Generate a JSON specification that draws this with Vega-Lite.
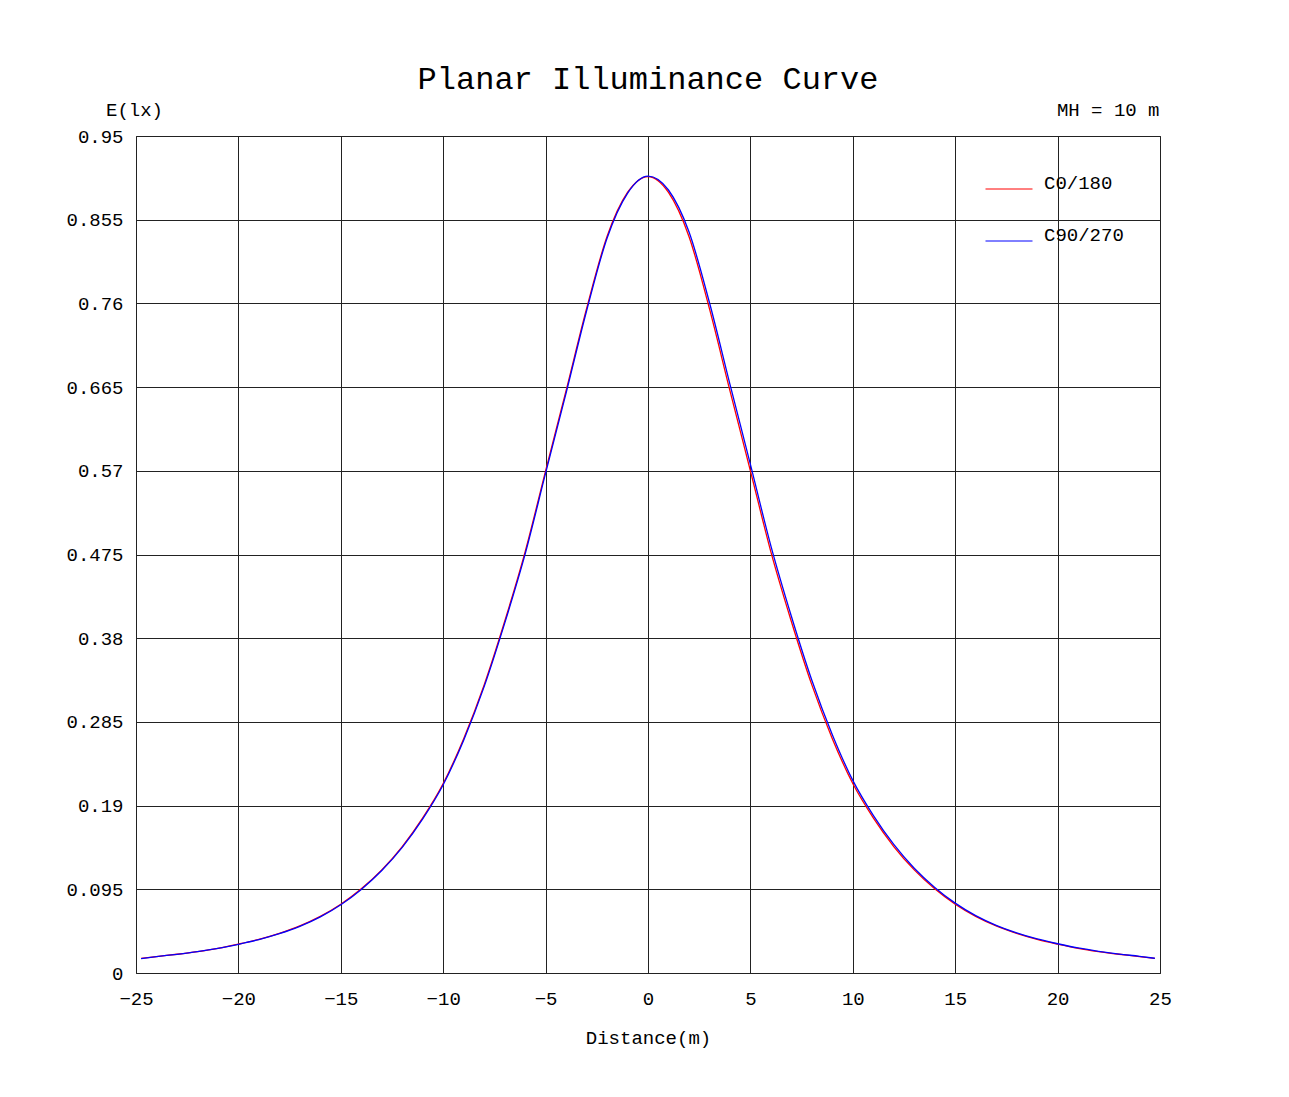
{
  "$schema": "https://vega.github.io/schema/vega-lite/v6.json",
  "autosize": {"type": "none"},
  "width": 1024,
  "height": 837,
  "padding": {"left": 136, "top": 136, "right": 129, "bottom": 124},
  "background": "white",
  "title": {"text": "Planar Illuminance Curve", "frame": "group", "anchor": "middle", "offset": 4, "fontSize": 32, "font": "Liberation Mono", "fontWeight": "normal", "color": "#000"},
  "config": {
    "view": {"stroke": "#222", "strokeWidth": 1},
    "font": "Liberation Mono",
    "axis": {"labelFont": "Liberation Mono", "titleFont": "Liberation Mono", "labelColor": "#000", "titleColor": "#000", "labelFontSize": 19, "titleFontSize": 19, "titleFontWeight": "normal", "gridColor": "#222", "gridOpacity": 1, "gridWidth": 1, "ticks": false, "tickSize": 0, "domain": false, "labelFlush": false},
    "legend": {"labelFont": "Liberation Mono", "labelColor": "#000"}
  },
  "data": {"values": [
    {"d": -24.75, "E": 0.0165, "series": "C0/180"},
    {"d": -24, "E": 0.0187, "series": "C0/180"},
    {"d": -23, "E": 0.0213, "series": "C0/180"},
    {"d": -22, "E": 0.0243, "series": "C0/180"},
    {"d": -21, "E": 0.0280, "series": "C0/180"},
    {"d": -20, "E": 0.0328, "series": "C0/180"},
    {"d": -19, "E": 0.0382, "series": "C0/180"},
    {"d": -18, "E": 0.0450, "series": "C0/180"},
    {"d": -17, "E": 0.0534, "series": "C0/180"},
    {"d": -16, "E": 0.0642, "series": "C0/180"},
    {"d": -15, "E": 0.0780, "series": "C0/180"},
    {"d": -14, "E": 0.0955, "series": "C0/180"},
    {"d": -13, "E": 0.117, "series": "C0/180"},
    {"d": -12, "E": 0.1435, "series": "C0/180"},
    {"d": -11, "E": 0.176, "series": "C0/180"},
    {"d": -10, "E": 0.215, "series": "C0/180"},
    {"d": -9, "E": 0.266, "series": "C0/180"},
    {"d": -8, "E": 0.327, "series": "C0/180"},
    {"d": -7, "E": 0.399, "series": "C0/180"},
    {"d": -6, "E": 0.478, "series": "C0/180"},
    {"d": -5, "E": 0.570, "series": "C0/180"},
    {"d": -4, "E": 0.661, "series": "C0/180"},
    {"d": -3, "E": 0.754, "series": "C0/180"},
    {"d": -2, "E": 0.836, "series": "C0/180"},
    {"d": -1, "E": 0.886, "series": "C0/180"},
    {"d": 0, "E": 0.904, "series": "C0/180"},
    {"d": 1, "E": 0.886, "series": "C0/180"},
    {"d": 2, "E": 0.836, "series": "C0/180"},
    {"d": 3, "E": 0.754, "series": "C0/180"},
    {"d": 4, "E": 0.661, "series": "C0/180"},
    {"d": 5, "E": 0.570, "series": "C0/180"},
    {"d": 6, "E": 0.478, "series": "C0/180"},
    {"d": 7, "E": 0.399, "series": "C0/180"},
    {"d": 8, "E": 0.327, "series": "C0/180"},
    {"d": 9, "E": 0.266, "series": "C0/180"},
    {"d": 10, "E": 0.215, "series": "C0/180"},
    {"d": 11, "E": 0.176, "series": "C0/180"},
    {"d": 12, "E": 0.1435, "series": "C0/180"},
    {"d": 13, "E": 0.117, "series": "C0/180"},
    {"d": 14, "E": 0.0955, "series": "C0/180"},
    {"d": 15, "E": 0.0780, "series": "C0/180"},
    {"d": 16, "E": 0.0642, "series": "C0/180"},
    {"d": 17, "E": 0.0534, "series": "C0/180"},
    {"d": 18, "E": 0.0450, "series": "C0/180"},
    {"d": 19, "E": 0.0382, "series": "C0/180"},
    {"d": 20, "E": 0.0328, "series": "C0/180"},
    {"d": 21, "E": 0.0280, "series": "C0/180"},
    {"d": 22, "E": 0.0243, "series": "C0/180"},
    {"d": 23, "E": 0.0213, "series": "C0/180"},
    {"d": 24, "E": 0.0187, "series": "C0/180"},
    {"d": 24.75, "E": 0.0165, "series": "C0/180"},
    {"d": -24.75, "E": 0.0164, "series": "C90/270"},
    {"d": -24, "E": 0.0186, "series": "C90/270"},
    {"d": -23, "E": 0.0212, "series": "C90/270"},
    {"d": -22, "E": 0.0242, "series": "C90/270"},
    {"d": -21, "E": 0.0279, "series": "C90/270"},
    {"d": -20, "E": 0.0326, "series": "C90/270"},
    {"d": -19, "E": 0.0380, "series": "C90/270"},
    {"d": -18, "E": 0.0447, "series": "C90/270"},
    {"d": -17, "E": 0.0530, "series": "C90/270"},
    {"d": -16, "E": 0.0637, "series": "C90/270"},
    {"d": -15, "E": 0.0775, "series": "C90/270"},
    {"d": -14, "E": 0.0949, "series": "C90/270"},
    {"d": -13, "E": 0.1163, "series": "C90/270"},
    {"d": -12, "E": 0.1426, "series": "C90/270"},
    {"d": -11, "E": 0.1749, "series": "C90/270"},
    {"d": -10, "E": 0.2137, "series": "C90/270"},
    {"d": -9, "E": 0.2643, "series": "C90/270"},
    {"d": -8, "E": 0.325, "series": "C90/270"},
    {"d": -7, "E": 0.3968, "series": "C90/270"},
    {"d": -6, "E": 0.4754, "series": "C90/270"},
    {"d": -5, "E": 0.5673, "series": "C90/270"},
    {"d": -4, "E": 0.6582, "series": "C90/270"},
    {"d": -3, "E": 0.7514, "series": "C90/270"},
    {"d": -2, "E": 0.834, "series": "C90/270"},
    {"d": -1, "E": 0.885, "series": "C90/270"},
    {"d": 0, "E": 0.9045, "series": "C90/270"},
    {"d": 1, "E": 0.8887, "series": "C90/270"},
    {"d": 2, "E": 0.8413, "series": "C90/270"},
    {"d": 3, "E": 0.761, "series": "C90/270"},
    {"d": 4, "E": 0.6684, "series": "C90/270"},
    {"d": 5, "E": 0.5773, "series": "C90/270"},
    {"d": 6, "E": 0.4848, "series": "C90/270"},
    {"d": 7, "E": 0.4049, "series": "C90/270"},
    {"d": 8, "E": 0.3323, "series": "C90/270"},
    {"d": 9, "E": 0.2705, "series": "C90/270"},
    {"d": 10, "E": 0.2186, "series": "C90/270"},
    {"d": 11, "E": 0.1789, "series": "C90/270"},
    {"d": 12, "E": 0.1459, "series": "C90/270"},
    {"d": 13, "E": 0.1189, "series": "C90/270"},
    {"d": 14, "E": 0.0971, "series": "C90/270"},
    {"d": 15, "E": 0.0793, "series": "C90/270"},
    {"d": 16, "E": 0.0651, "series": "C90/270"},
    {"d": 17, "E": 0.0541, "series": "C90/270"},
    {"d": 18, "E": 0.0455, "series": "C90/270"},
    {"d": 19, "E": 0.0386, "series": "C90/270"},
    {"d": 20, "E": 0.0332, "series": "C90/270"},
    {"d": 21, "E": 0.0284, "series": "C90/270"},
    {"d": 22, "E": 0.0246, "series": "C90/270"},
    {"d": 23, "E": 0.0215, "series": "C90/270"},
    {"d": 24, "E": 0.0189, "series": "C90/270"},
    {"d": 24.75, "E": 0.0167, "series": "C90/270"}
  ]},
  "layer": [
    {
      "mark": {"type": "line", "interpolate": "monotone", "strokeWidth": 1.3},
      "encoding": {
        "x": {"field": "d", "type": "quantitative",
          "scale": {"domain": [-25, 25], "nice": false, "zero": false},
          "axis": {"values": [-25, -20, -15, -10, -5, 0, 5, 10, 15, 20, 25], "format": "d", "grid": true, "labelPadding": 16, "title": "Distance(m)", "titleY": 70, "titleBaseline": "alphabetic"}},
        "y": {"field": "E", "type": "quantitative",
          "scale": {"domain": [0, 0.95], "nice": false},
          "axis": {"values": [0, 0.095, 0.19, 0.285, 0.38, 0.475, 0.57, 0.665, 0.76, 0.855, 0.95], "labelExpr": "'' + datum.value", "grid": true, "labelPadding": 13, "title": "E(lx)", "titleAngle": 0, "titleAlign": "center", "titleBaseline": "alphabetic", "titleX": -2, "titleY": -21}},
        "color": {"field": "series", "type": "nominal",
          "scale": {"domain": ["C0/180", "C90/270"], "range": ["#ff0000", "#0000ff"]},
          "legend": {"orient": "none", "legendX": 849, "legendY": 29, "title": null, "symbolType": "stroke", "symbolSize": 2209, "symbolStrokeWidth": 1, "labelFontSize": 19, "labelOffset": 11, "labelBaseline": "alphabetic", "rowPadding": 24, "padding": 0}}
      }
    },
    {
      "mark": {"type": "point", "opacity": 0},
      "encoding": {
        "x": {"field": "d", "type": "quantitative"},
        "y": {"field": "E", "type": "quantitative",
          "axis": {"orient": "right", "labels": false, "grid": false, "title": "MH = 10 m", "titleAngle": 0, "titleAlign": "right", "titleBaseline": "alphabetic", "titleX": -1, "titleY": -21}}
      }
    }
  ],
  "resolve": {"axis": {"y": "independent"}}
}
